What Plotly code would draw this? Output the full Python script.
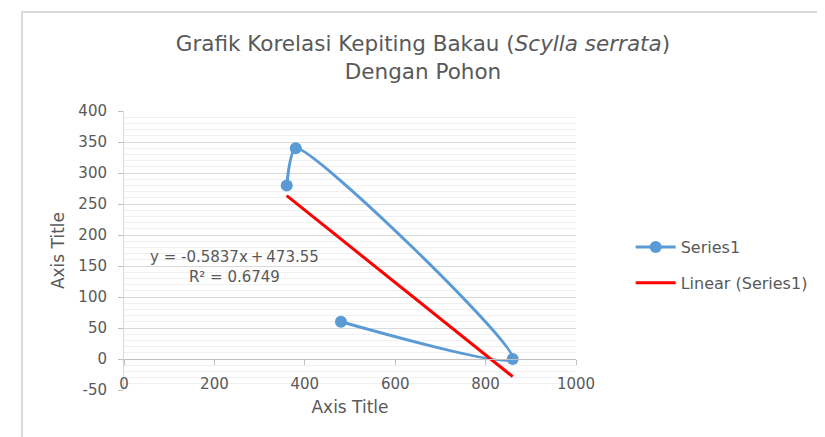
import plotly.graph_objects as go
import numpy as np

x_vals = [360, 380, 860, 480]
y_vals = [280, 340, 0, 60]
x_ticks = [0, 200, 400, 600, 800, 1000]
y_ticks = [-50, 0, 50, 100, 150, 200, 250, 300, 350, 400]

slope, intercept = np.polyfit(x_vals, y_vals, 1)
trend_x = [min(x_vals), max(x_vals)]
trend_y = [slope * v + intercept for v in trend_x]
r2 = np.corrcoef(x_vals, y_vals)[0, 1] ** 2

GRAY = "#595959"
FONT = "DejaVu Sans"

# plot area in figure pixels
L, R, T, B = 116, 568, 103, 382
W, H = R - L, B - T

fig = go.Figure()
fig.add_trace(go.Scatter(
    x=x_vals, y=y_vals, mode="lines+markers", name="Series1", legendgroup="a",
    line=dict(color="#5b9bd5", width=3, shape="spline", smoothing=0.6),
    marker=dict(size=12, color="#5b9bd5"),
))
fig.add_trace(go.Scatter(
    x=trend_x, y=trend_y, mode="lines", name="Linear (Series1)", legendgroup="b",
    line=dict(color="#ff0000", width=3),
))

fig.update_layout(
    width=825, height=437,
    margin=dict(l=L, r=825 - R, t=T, b=437 - B),
    paper_bgcolor="white", plot_bgcolor="white",
    font=dict(family=FONT, color=GRAY, size=15),
    title=dict(
        text="Grafik Korelasi Kepiting Bakau (<i>Scylla serrata</i>)<br>Dengan Pohon",
        x=0.503, xanchor="center", y=0.901, yanchor="top",
        font=dict(size=21.5, color=GRAY, family=FONT),
    ),
    xaxis=dict(
        range=[0, 1000], tickvals=x_ticks, ticktext=[str(v) for v in x_ticks],
        showgrid=False, zeroline=False,
        showline=True, linecolor="#bfbfbf", linewidth=1,
        ticks="outside", ticklen=5, tickcolor="#bfbfbf",
        ticklabelstandoff=6,
        anchor="free", position=31 / 279,
        title=dict(text="Axis Title", font=dict(size=17, color=GRAY), standoff=9),
        tickfont=dict(size=15, color=GRAY),
    ),
    yaxis=dict(
        range=[-50, 400], tickvals=y_ticks, ticktext=[str(v) for v in y_ticks],
        showgrid=True, gridcolor="#d9d9d9", gridwidth=1,
        zeroline=False,
        showline=True, linecolor="#d9d9d9", linewidth=1,
        ticks="outside", ticklen=5, tickcolor="#bfbfbf",
        ticklabelstandoff=8,
        minor=dict(dtick=10, showgrid=True, gridcolor="#f0f0f0", gridwidth=1),
        title=dict(text="Axis Title", font=dict(size=17, color=GRAY), standoff=9),
        tickfont=dict(size=15, color=GRAY),
    ),
    legend=dict(
        x=1.121, xanchor="left", y=0.448, yanchor="middle",
        font=dict(size=16, color=GRAY), bgcolor="rgba(0,0,0,0)",
        traceorder="grouped", tracegroupgap=12, itemwidth=40,
    ),
    showlegend=True,
)

fig.add_annotation(
    x=245, y=148, xref="x", yref="y", showarrow=False,
    text=f"y = {slope:.4f}x\u2009+\u2009{intercept:.2f}<br>R² = {r2:.4f}",
    font=dict(size=15, color=GRAY), align="center",
)

fig.add_shape(
    type="rect", xref="paper", yref="paper",
    x0=(14 - L) / W, x1=(840 - L) / W,
    y0=(B - 450) / H, y1=(B - 4) / H,
    line=dict(color="#d9d9d9", width=2), fillcolor="rgba(0,0,0,0)",
    layer="below",
)

fig.write_html("out.html")
